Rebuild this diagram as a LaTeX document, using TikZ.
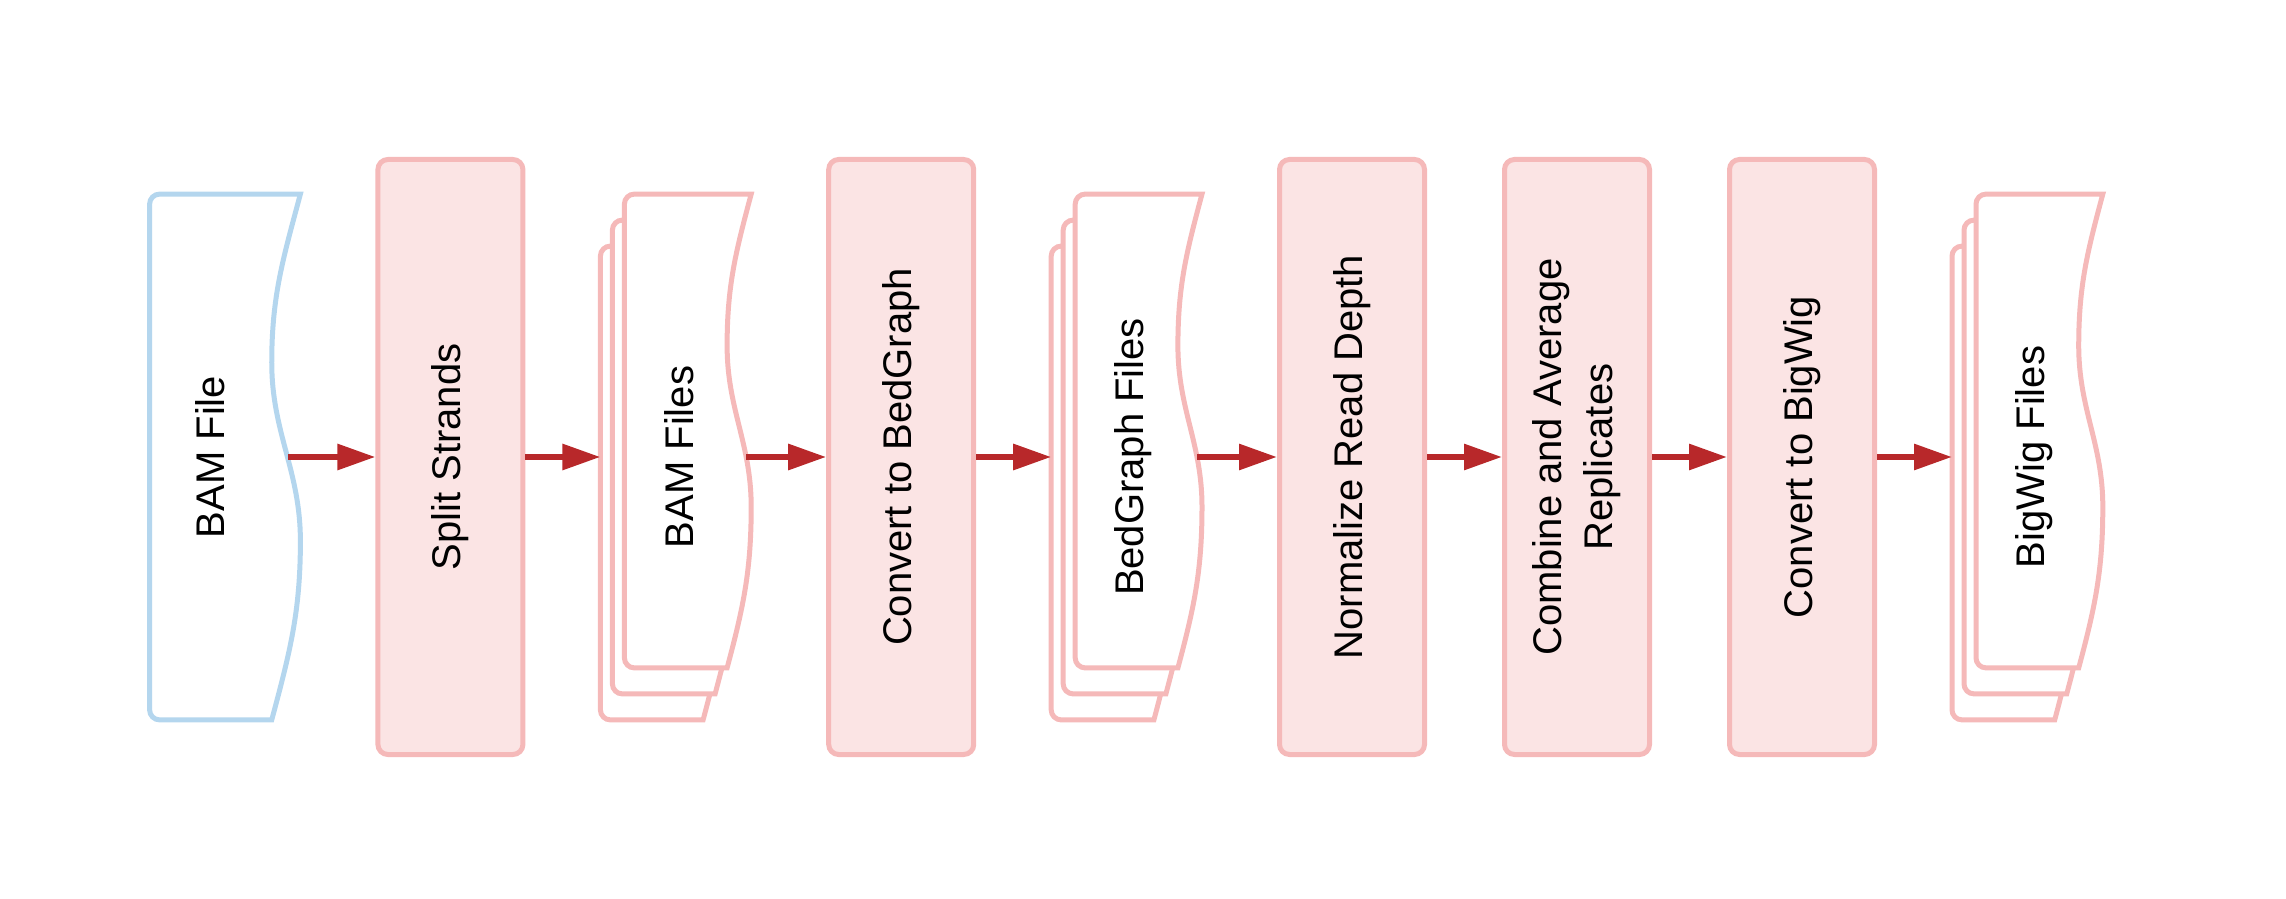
\documentclass[tikz,border=0pt]{standalone}
\usepackage{fontspec}
\setmainfont{Liberation Sans}
\usetikzlibrary{positioning, arrows.meta, calc}
\pgfdeclarelayer{background}
\pgfsetlayers{background,main}

\definecolor{fileblue}{HTML}{B4D6EE}
\definecolor{steppink}{HTML}{F5B9B9}
\definecolor{stepfill}{HTML}{FBE4E4}
\definecolor{flowred}{HTML}{B8282A}

% rotated label, optional sideways shift
\newcommand{\vtext}[2][0pt]{\hspace*{#1}\rotatebox{90}{\begin{tabular}{@{}c@{}}#2\end{tabular}}}

% file outline from south west corner #2 to north east corner #3
\newcommand{\docoutline}[3]{%
  \draw[#1] let \p1=#2, \p2=#3, \n1={0.19*(\x2-\x1)} in
    (\x2,\y2) -- (\x1+5pt,\y2) arc[start angle=90, end angle=180, radius=5pt]
    -- (\x1,\y1+5pt) arc[start angle=180, end angle=270, radius=5pt]
    -- (\x2-\n1,\y1) to[out=75, in=-90] (\x2,{\y1+0.34*(\y2-\y1)})
    to[out=90, in=-90] (\x2-\n1,{\y1+0.68*(\y2-\y1)})
    to[out=90, in=255] (\x2,\y2) -- cycle;}

\begin{document}
\begin{tikzpicture}[node distance=37.5pt,
  font=\fontsize{20}{25.5}\selectfont,
  stepbox/.style={rectangle, rounded corners=5pt, draw=steppink, fill=stepfill,
    line width=2.5pt, minimum width=72.5pt, minimum height=297.5pt, inner sep=0pt},
  filebox/.style={rectangle, minimum width=75pt, minimum height=262.5pt, inner sep=0pt},
  fileline/.style={draw=fileblue, fill=white, line width=2.5pt},
  stackline/.style={draw=steppink, fill=white, line width=2.5pt},
  flow/.style={draw=flowred, line width=3pt, -{Triangle[length=19pt, width=12.5pt]}}]

  \useasboundingbox (-112.5pt,-221pt) rectangle (1030.5pt,228.5pt);

  \node[filebox] (bam) {\vtext[-11pt]{BAM File}};
  \node[stepbox] (split) [right=of bam] {\vtext{Split Strands}};
  \node[filebox] (bamfiles) [right=of split] {\vtext[7pt]{BAM Files}};
  \node[stepbox] (tobg) [right=of bamfiles] {\vtext{Convert to BedGraph}};
  \node[filebox] (bgfiles) [right=of tobg] {\vtext[7pt]{BedGraph Files}};
  \node[stepbox] (norm) [right=of bgfiles] {\vtext{Normalize Read Depth}};
  \node[stepbox] (combine) [right=of norm] {\vtext{Combine and Average\\Replicates}};
  \node[stepbox] (tobw) [right=of combine] {\vtext{Convert to BigWig}};
  \node[filebox] (bwfiles) [right=of tobw] {\vtext[7pt]{BigWig Files}};

  \begin{pgfonlayer}{background}
    \docoutline{fileline}{(bam.south west)}{(bam.north east)}
    \foreach \f in {bamfiles, bgfiles, bwfiles} {
      \docoutline{stackline}{(\f.south west)}{($(\f.north east)+(-12pt,-26pt)$)}
      \docoutline{stackline}{($(\f.south west)+(6pt,13pt)$)}{($(\f.north east)+(-6pt,-13pt)$)}
      \docoutline{stackline}{($(\f.south west)+(12pt,26pt)$)}{(\f.north east)}
    }
  \end{pgfonlayer}

  \coordinate (bam-out) at ([xshift=-6pt]bam.east);
  \foreach \f in {bamfiles, bgfiles, bwfiles}
    \coordinate (\f-out) at ([xshift=-2.5pt]\f.east);

  \foreach \s/\t in {bam-out/split, split/bamfiles, bamfiles-out/tobg, tobg/bgfiles,
      bgfiles-out/norm, norm/combine, combine/tobw, tobw/bwfiles}
    \draw[flow] (\s) -- (\t);
\end{tikzpicture}
\end{document}
